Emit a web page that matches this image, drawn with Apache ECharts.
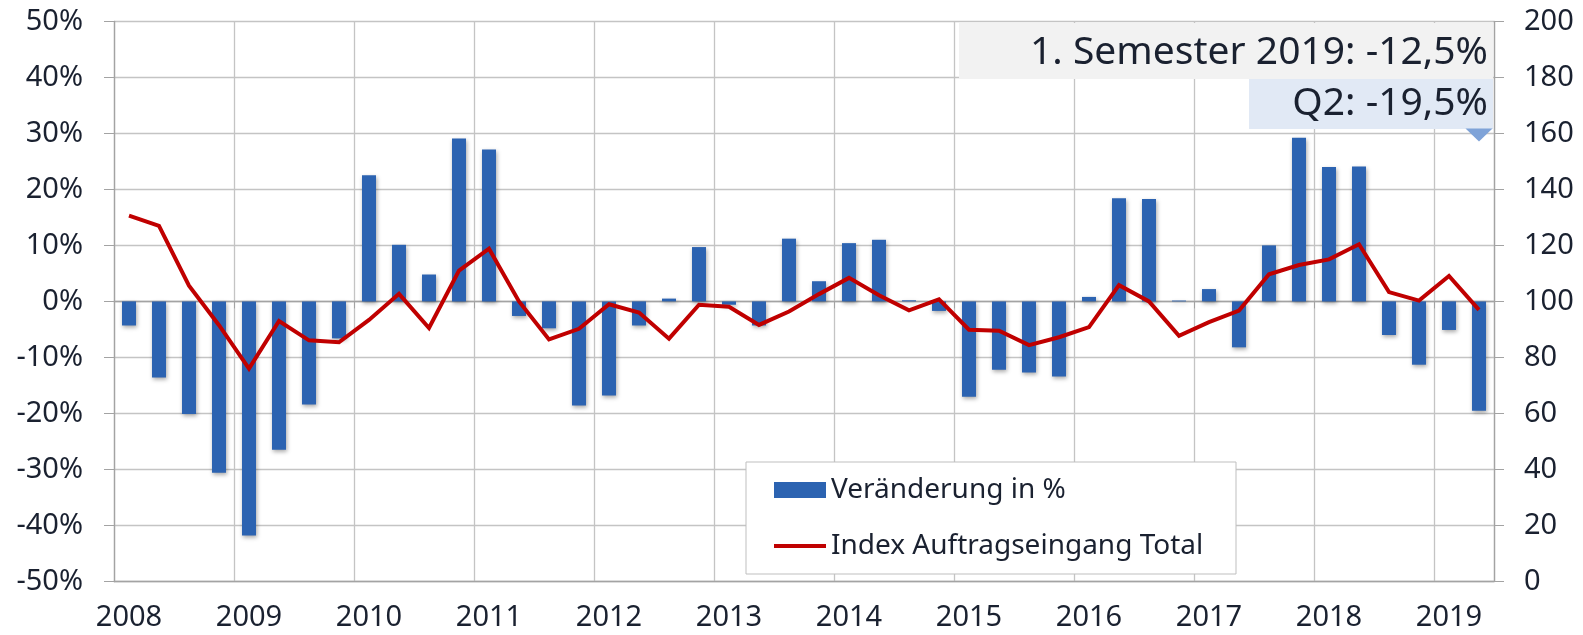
<!DOCTYPE html>
<html>
<head>
<meta charset="utf-8">
<script src="https://cdn.jsdelivr.net/npm/echarts@6/dist/echarts.min.js"></script>
<style>
  html, body { margin: 0; padding: 0; background: #ffffff; }
  #chart { width: 1583px; height: 635px; }
</style>
</head>
<body>
<div id="chart"></div>
<script>
// ---- data ----
const years = ['2008','2009','2010','2011','2012','2013','2014','2015','2016','2017','2018','2019'];
const quarters = ['Q1','Q2','Q3','Q4'];
const categories = [];
years.forEach(y => quarters.forEach(q => categories.push(q + ' ' + y)));
categories.length = 46; // 2008 Q1 .. 2019 Q2

const changePct = [
  -4.3, -13.6, -20.1, -30.6,
  -41.8, -26.5, -18.4, -6.6,
  22.5, 10.1, 4.8, 29.1,
  27.1, -2.6, -4.8, -18.6,
  -16.8, -4.3, 0.5, 9.7,
  -0.6, -4.3, 11.2, 3.6,
  10.4, 11.0, 0.2, -1.7,
  -17.0, -12.2, -12.7, -13.4,
  0.8, 18.4, 18.3, 0.15,
  2.2, -8.2, 10.0, 29.2,
  24.0, 24.1, -6.0, -11.3,
  -5.1, -19.5
];

const indexTotal = [
  130.6, 127.0, 105.6, 91.5,
  76.0, 93.0, 86.1, 85.4,
  93.4, 102.7, 90.5, 111.0,
  118.8, 100.0, 86.4, 90.2,
  99.0, 96.0, 86.7, 98.8,
  98.1, 91.6, 96.4, 102.6,
  108.4, 102.2, 96.8, 100.7,
  89.9, 89.5, 84.4, 87.2,
  90.8, 105.8, 100.0, 87.7,
  92.6, 96.7, 109.7, 113.0,
  115.0, 120.4, 103.3, 100.3,
  109.1, 97.0
];

const seriesNames = ['Veränderung in %', 'Index Auftragseingang Total'];
const noteSemester = '1. Semester 2019: -12,5%';
const noteQ2 = 'Q2: -19,5%';

// ---- chart ----
const FONT = '"Noto Sans", "Open Sans", sans-serif';
const TXT = '#1a2130';
const GRID = '#c4c4c4';
const AXIS = '#a3a3a3';
// legend icon for the line: a 4px stripe in the middle of a 52x16 box
const LINE_ICON = 'path://M0,0 L0.01,0 L0,0.01 Z M0,6 L52,6 L52,10 L0,10 Z M52,16 L51.99,16 L52,15.99 Z';

const chart = echarts.init(document.getElementById('chart'), null, { renderer: 'canvas' });

chart.setOption({
  animation: false,
  textStyle: { fontFamily: FONT, color: TXT },
  grid: { left: 114, right: 89, top: 21.3, bottom: 53.5, containLabel: false },
  legend: {
    orient: 'vertical',
    left: 774,
    top: 473,
    z: 10,
    itemWidth: 52,
    itemHeight: 16,
    itemGap: 22,
    padding: 0,
    textStyle: { fontFamily: FONT, fontSize: 28, color: TXT, lineHeight: 34 },
    data: [
      { name: seriesNames[0], icon: 'rect', itemStyle: { shadowBlur: 0, shadowOffsetX: 0, shadowOffsetY: 0 } },
      { name: seriesNames[1], icon: LINE_ICON, itemStyle: { color: '#c00000', borderWidth: 0 } }
    ]
  },
  xAxis: [
    {
      type: 'category',
      data: categories,
      position: 'bottom',
      boundaryGap: true,
      axisLine: { onZero: false, lineStyle: { color: AXIS, width: 1.3 } },
      axisTick: { show: false },
      axisLabel: {
        interval: 3,
        margin: 22,
        fontSize: 29,
        fontFamily: FONT,
        color: TXT,
        formatter: v => v.split(' ')[1]
      },
      splitLine: { show: true, interval: 3, lineStyle: { color: GRID, width: 1.3 } }
    },
    {
      type: 'category',
      data: categories,
      position: 'top',
      boundaryGap: true,
      axisLine: { onZero: true, onZeroAxisIndex: 0, lineStyle: { color: AXIS, width: 1.3 } },
      axisTick: { show: true, inside: true, interval: 3, length: 7, lineStyle: { color: AXIS } },
      axisLabel: { show: false },
      splitLine: { show: false }
    }
  ],
  yAxis: [
    {
      type: 'value',
      min: -50,
      max: 50,
      interval: 10,
      position: 'left',
      axisLine: { show: true, lineStyle: { color: AXIS, width: 1.3 } },
      axisTick: { show: true, length: 10, lineStyle: { color: AXIS } },
      axisLabel: { margin: 31, fontSize: 29, fontFamily: FONT, color: TXT, formatter: '{value}%' },
      splitLine: { show: true, lineStyle: { color: GRID, width: 1.3 } }
    },
    {
      type: 'value',
      min: 0,
      max: 200,
      interval: 20,
      position: 'right',
      axisLine: { show: true, lineStyle: { color: AXIS, width: 1.3 } },
      axisTick: { show: true, length: 10, lineStyle: { color: AXIS } },
      axisLabel: { margin: 30, fontSize: 29, fontFamily: FONT, color: TXT, align: 'left' },
      splitLine: { show: false }
    }
  ],
  series: [
    {
      name: seriesNames[0],
      type: 'bar',
      xAxisIndex: 0,
      yAxisIndex: 0,
      data: changePct,
      barWidth: 14,
      z: 2,
      itemStyle: {
        color: '#2c63b1',
        shadowColor: 'rgba(0,0,0,0.35)',
        shadowBlur: 4,
        shadowOffsetX: 1,
        shadowOffsetY: 2
      },
      markPoint: {
        silent: true,
        symbol: 'path://M0,0 L2,0 L1,1 Z',
        symbolSize: [27, 13],
        itemStyle: { color: '#7fa3d8', shadowBlur: 0, shadowOffsetX: 0, shadowOffsetY: 0 },
        label: { show: false },
        data: [{ coord: [categories[45], 29.7] }]
      }
    },
    {
      name: seriesNames[1],
      type: 'line',
      xAxisIndex: 0,
      yAxisIndex: 1,
      data: indexTotal,
      symbol: 'none',
      z: 4,
      lineStyle: { color: '#c00000', width: 4, join: 'miter' },
      itemStyle: { color: '#c00000' }
    }
  ],
  graphic: [
    {
      type: 'rect', z: 5,
      shape: { x: 746, y: 462, width: 490, height: 112 },
      style: { fill: '#ffffff', stroke: '#bfbfbf', lineWidth: 1 }
    },
    {
      type: 'rect', z: 5,
      shape: { x: 959, y: 23, width: 534, height: 56 },
      style: { fill: '#f2f2f2' }
    },
    {
      type: 'rect', z: 5,
      shape: { x: 1249, y: 79, width: 244, height: 50 },
      style: { fill: '#e1e9f5' }
    },
    {
      type: 'text', z: 6,
      style: {
        text: noteSemester, x: 1488, y: 53,
        textAlign: 'right', textVerticalAlign: 'middle',
        font: '39px "Noto Sans", sans-serif', fill: TXT
      }
    },
    {
      type: 'text', z: 6,
      style: {
        text: noteQ2, x: 1488, y: 104,
        textAlign: 'right', textVerticalAlign: 'middle',
        font: '39px "Noto Sans", sans-serif', fill: TXT
      }
    }
  ]
});
</script>
</body>
</html>
